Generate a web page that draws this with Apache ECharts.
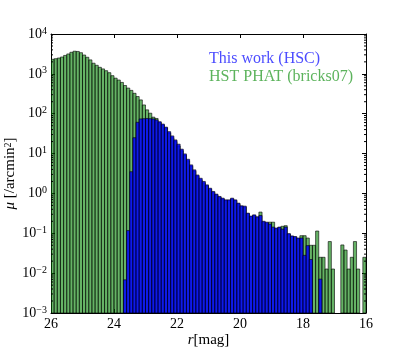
<!DOCTYPE html>
<html>
<head>
<meta charset="utf-8">
<script src="https://cdn.jsdelivr.net/npm/echarts@6/dist/echarts.min.js"></script>
<style>
  html, body { margin: 0; padding: 0; background: #fff; }
  #chart { width: 407px; height: 349px; }
</style>
</head>
<body>
<div id="chart"></div>
<script>
// bin centres in r [mag], 0.1 mag wide, from 26 down to 16
const mags = [
  25.95, 25.85, 25.75, 25.65, 25.55, 25.45, 25.35, 25.25, 25.15, 25.05,
  24.95, 24.85, 24.75, 24.65, 24.55, 24.45, 24.35, 24.25, 24.15, 24.05,
  23.95, 23.85, 23.75, 23.65, 23.55, 23.45, 23.35, 23.25, 23.15, 23.05,
  22.95, 22.85, 22.75, 22.65, 22.55, 22.45, 22.35, 22.25, 22.15, 22.05,
  21.95, 21.85, 21.75, 21.65, 21.55, 21.45, 21.35, 21.25, 21.15, 21.05,
  20.95, 20.85, 20.75, 20.65, 20.55, 20.45, 20.35, 20.25, 20.15, 20.05,
  19.95, 19.85, 19.75, 19.65, 19.55, 19.45, 19.35, 19.25, 19.15, 19.05,
  18.95, 18.85, 18.75, 18.65, 18.55, 18.45, 18.35, 18.25, 18.15, 18.05,
  17.95, 17.85, 17.75, 17.65, 17.55, 17.45, 17.35, 17.25, 17.15, 17.05,
  16.95, 16.85, 16.75, 16.65, 16.55, 16.45, 16.35, 16.25, 16.15, 16.05
];

// HST PHAT (bricks07), per bin
const phat = [
  2320, 2400, 2500, 2650, 2900, 3160, 3480, 3700, 3650, 3400,
  2970, 2610, 2240, 1850, 1640, 1460, 1330, 1200, 1070, 900,
  780, 700, 610, 510, 440, 385, 325, 270, 222, 166,
  125, 103, 82, 76, 60, 52, 44, 33, 25, 20,
  15.5, 11.8, 9.0, 6.6, 4.8, 3.6, 2.7, 2.2, 1.85, 1.55,
  1.28, 1.06, 0.92, 0.80, 0.72, 0.66, 0.66, 0.72, 0.66, 0.55,
  0.47, 0.45, 0.31, 0.26, 0.28, 0.25, 0.34, 0.19, 0.18, 0.19,
  0.19, 0.13, 0.14, 0.15, 0.155, 0.095, 0.083, 0.08, 0.073, 0.087,
  0.087, 0.076, 0.05, 0.05, 0.114, 0.025, 0.025, 0.0127, 0.062, 0.0127,
  0, 0, 0.051, 0.038, 0.0127, 0.025, 0.062, 0.0127, 0, 0.025
];

// This work (HSC), per bin
const hsc = [
  0, 0, 0, 0, 0, 0, 0, 0, 0, 0,
  0, 0, 0, 0, 0, 0, 0, 0, 0, 0,
  0, 0, 0, 0.0068, 0.117, 3.5, 25, 61, 74, 75,
  76, 75, 74, 70, 63, 55, 46, 35.5, 27.7, 22,
  17.2, 12.9, 9.8, 7.2, 5.2, 3.9, 2.9, 2.4, 2.0, 1.64,
  1.35, 1.12, 0.96, 0.84, 0.76, 0.69, 0.69, 0.76, 0.69, 0.57,
  0.49, 0.48, 0.32, 0.27, 0.29, 0.26, 0.28, 0.20, 0.19, 0.17,
  0.143, 0.135, 0.143, 0.127, 0.143, 0.098, 0.086, 0.083, 0.076, 0.076,
  0.028, 0.049, 0.022, 0, 0, 0.0071, 0, 0, 0, 0,
  0, 0, 0, 0, 0, 0, 0, 0, 0, 0
];

const xTicks = [26, 24, 22, 20, 18, 16];
const yMin = 1e-3, yMax = 1e4;
const binWidth = 0.1;

const FONT = "Liberation Serif";

// minor ticks at 2..9 x 10^k for the log axis
const minorTicks = [];
for (let e = -3; e < 4; e++) {
  for (let k = 2; k < 10; k++) minorTicks.push([26, k * Math.pow(10, e)]);
}

function toPairs(vals) {
  const out = [];
  vals.forEach((v, i) => { if (v > 0) out.push([mags[i], v]); });
  return out;
}

function barRenderer(fill) {
  return function (params, api) {
    const c = api.value(0), v = api.value(1);
    const p0 = api.coord([c + binWidth / 2, v]);
    const p1 = api.coord([c - binWidth / 2, yMin]);
    return {
      type: "rect",
      shape: {
        x: Math.min(p0[0], p1[0]),
        y: p0[1],
        width: Math.abs(p1[0] - p0[0]),
        height: p1[1] - p0[1],
      },
      style: { fill: fill, stroke: "rgba(0,0,0,0.6)", lineWidth: 1 },
    };
  };
}

function tickRenderer(params, api) {
  const v = api.value(1);
  const l = api.coord([26, v]);
  const r = api.coord([16, v]);
  const style = { stroke: "#000", lineWidth: 1 };
  return {
    type: "group",
    children: [
      { type: "line", shape: { x1: l[0], y1: l[1], x2: l[0] + 2, y2: l[1] }, style: style },
      { type: "line", shape: { x1: r[0] - 2, y1: r[1], x2: r[0], y2: r[1] }, style: style },
    ],
  };
}

function powLabel(v) {
  const e = Math.round(Math.log10(v));
  return "{b|10}{s|" + String(e).replace("-", "\u2212") + "}";
}

const richPow = {
  b: { fontFamily: FONT, fontSize: 14, color: "#000", lineHeight: 16 },
  s: { fontFamily: FONT, fontSize: 10, color: "#000", verticalAlign: "top", lineHeight: 10 },
};

const chart = echarts.init(document.getElementById("chart"), null, { renderer: "canvas" });

const xCommon = {
  type: "value",
  min: 16,
  max: 26,
  interval: 2,
  inverse: true,
  splitLine: { show: false },
  axisLine: { show: true, onZero: false, lineStyle: { color: "#000", width: 1 } },
  axisTick: { show: true, inside: true, length: 4, lineStyle: { color: "#000" } },
};

const yCommon = {
  type: "log",
  logBase: 10,
  min: yMin,
  max: yMax,
  interval: 1,
  splitLine: { show: false },
  axisLine: { show: true, lineStyle: { color: "#000", width: 1 } },
  axisTick: { show: true, inside: true, length: 4, lineStyle: { color: "#000" } },
};

chart.setOption({
  animation: false,
  backgroundColor: "#fff",
  grid: { left: 51, right: 41, top: 34, bottom: 36, containLabel: false, outerBoundsMode: "none" },
  legend: {
    orient: "vertical",
    left: 199,
    top: 46,
    icon: "none",
    itemWidth: 0,
    itemHeight: 16,
    itemGap: 1.5,
    selectedMode: false,
    textStyle: { fontFamily: FONT, fontSize: 16, lineHeight: 16 },
    data: [
      { name: "This work (HSC)", textStyle: { color: "#4d4dff" } },
      { name: "HST PHAT (bricks07)", textStyle: { color: "#5cb35c" } },
    ],
  },
  xAxis: [
    Object.assign({}, xCommon, {
      position: "bottom",
      name: "{i|r}[mag]",
      nameLocation: "middle",
      nameGap: 20,
      nameMoveOverlap: false,
      nameTextStyle: {
        fontFamily: FONT,
        fontSize: 15,
        color: "#000",
        rich: { i: { fontFamily: FONT, fontSize: 15, fontStyle: "italic", color: "#000" } },
      },
      axisLabel: {
        fontFamily: FONT,
        fontSize: 14,
        color: "#000",
        margin: 4,
        formatter: (v) => String(v),
      },
    }),
    Object.assign({}, xCommon, { position: "top", axisLabel: { show: false } }),
  ],
  yAxis: [
    Object.assign({}, yCommon, {
      position: "left",
      name: "{i|\u03bc} [/arcmin{s|2}]",
      nameLocation: "middle",
      nameRotate: 90,
      nameGap: 33,
      nameMoveOverlap: false,
      nameTextStyle: {
        fontFamily: FONT,
        fontSize: 15,
        color: "#000",
        rich: {
          i: { fontFamily: FONT, fontSize: 15, fontStyle: "italic", color: "#000" },
          s: { fontFamily: FONT, fontSize: 10, color: "#000", verticalAlign: "top" },
        },
      },
      axisLabel: {
        margin: 4,
        formatter: powLabel,
        rich: richPow,
      },
    }),
    Object.assign({}, yCommon, { position: "right", axisLabel: { show: false } }),
  ],
  series: [
    {
      name: "HST PHAT (bricks07)",
      type: "custom",
      renderItem: barRenderer("rgba(0,128,0,0.6)"),
      encode: { x: 0, y: 1 },
      data: toPairs(phat),
      clip: true,
      z: 2,
    },
    {
      name: "This work (HSC)",
      type: "custom",
      renderItem: barRenderer("rgba(0,0,255,0.85)"),
      encode: { x: 0, y: 1 },
      data: toPairs(hsc),
      clip: true,
      z: 3,
    },
    {
      name: "minor ticks",
      type: "custom",
      renderItem: tickRenderer,
      encode: { x: 0, y: 1 },
      data: minorTicks,
      silent: true,
      z: 5,
    },
  ],
});
</script>
</body>
</html>
